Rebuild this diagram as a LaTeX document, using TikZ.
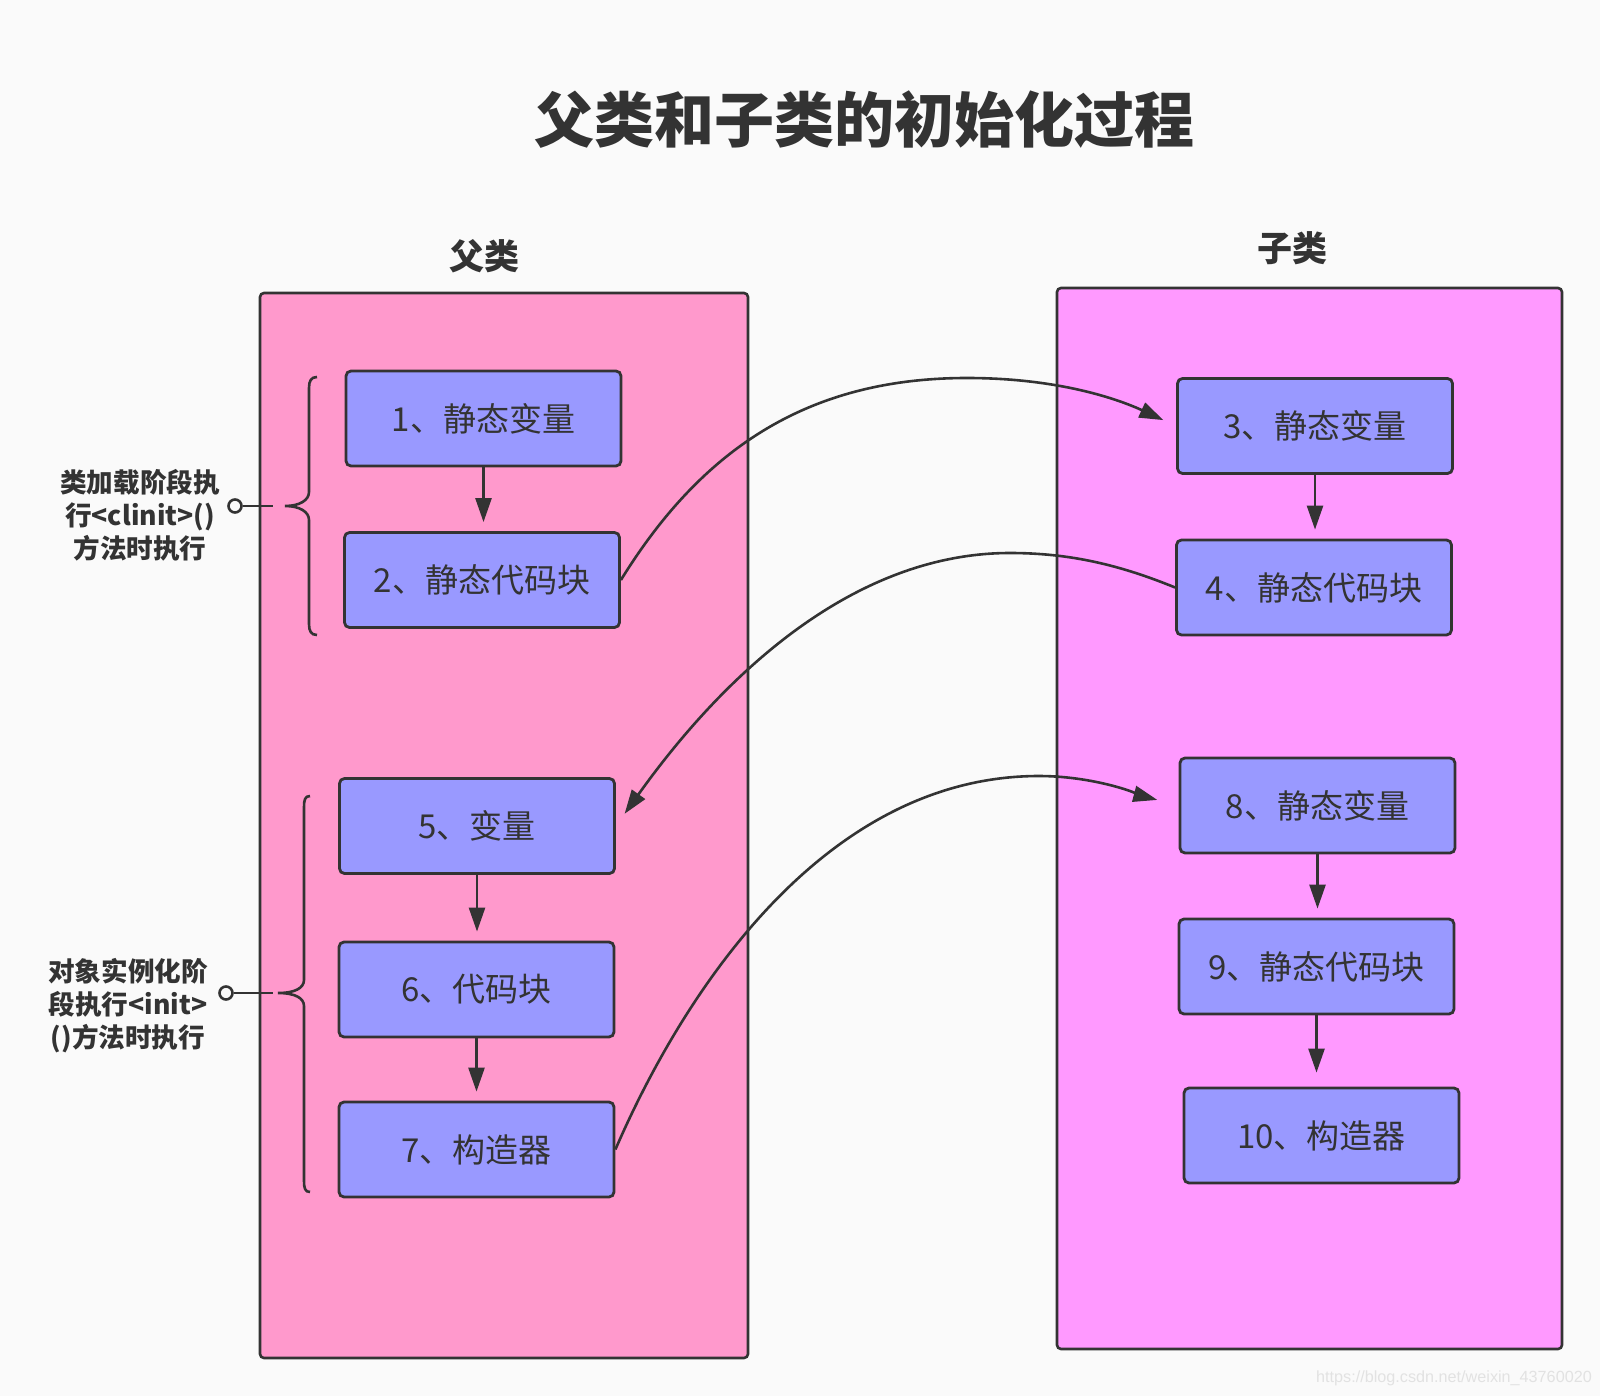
\documentclass[tikz,border=0pt]{standalone}
\usepackage{fontspec}
\setmainfont{Noto Sans CJK SC}
\newfontfamily\wmfont{Liberation Sans}
\usetikzlibrary{arrows.meta,calc}
\definecolor{bg}{HTML}{FAFAFA}
\definecolor{ln}{HTML}{333333}
\definecolor{pinkc}{HTML}{FF99CC}
\definecolor{magc}{HTML}{FF99FF}
\definecolor{boxc}{HTML}{9999FF}
\definecolor{wmc}{HTML}{E2E2E2}
\begin{document}
\begin{tikzpicture}[x=0.5pt,y=-0.5pt,
  cont/.style={draw=ln, line width=1.3pt, rounded corners=2pt, inner sep=0pt},
  box/.style={draw=ln, fill=boxc, line width=1.4pt, rounded corners=2.5pt,
    minimum width=137.5pt, minimum height=47.5pt, inner sep=0pt,
    text=ln, font=\fontsize{16.5}{20}\selectfont},
  lab/.style={text=ln, font=\bfseries\fontsize{17.5}{21}\selectfont},
  side/.style={align=center, text=ln, font=\bfseries\fontsize{13.3}{16.5}\selectfont},
  dotc/.style={circle, draw=ln, fill=bg, line width=1.3pt, minimum size=6.5pt, inner sep=0pt},
  arr/.style={draw=ln, line width=1.3pt, -{Triangle[length=12pt,width=8pt]}},
  brc/.style={draw=ln, line width=1.3pt}]
\fill[bg] (0,0) rectangle (1600,1396);
\useasboundingbox (0,0) rectangle (1600,1396);

% containers
\node[cont, fill=pinkc, minimum width=244pt, minimum height=532.5pt] (L) at (504,825.5) {};
\node[cont, fill=magc, minimum width=252.5pt, minimum height=530.5pt] (R) at (1309.5,818.5) {};

% titles
\node[text=ln, font=\bfseries\fontsize{30}{36}\selectfont] (title) at (864,120) {父类和子类的初始化过程};
\node[lab] (lp) at (484,256) {父类};
\node[lab] (lc) at (1292,248) {子类};

% boxes
\node[box] (b1) at (483.5,418.5) {1、静态变量};
\node[box] (b2) at (482,580) {2、静态代码块};
\node[box] (b3) at (1315,426) {3、静态变量};
\node[box] (b4) at (1314,587.5) {4、静态代码块};
\node[box] (b5) at (477,826) {5、变量};
\node[box] (b6) at (476.5,989.5) {6、代码块};
\node[box] (b7) at (476.5,1149.5) {7、构造器};
\node[box] (b8) at (1317.5,805.5) {8、静态变量};
\node[box] (b9) at (1316.5,966.5) {9、静态代码块};
\node[box] (b10) at (1321.5,1135.5) {10、构造器};

% straight arrows
\draw[arr, shorten >=4.5pt] (b1.south) -- (b1.south |- b2.north);
\draw[arr, shorten >=4.5pt] (b3.south) -- (b3.south |- b4.north);
\draw[arr, shorten >=4.5pt] (b5.south) -- (b5.south |- b6.north);
\draw[arr, shorten >=4.5pt] (b6.south) -- (b6.south |- b7.north);
\draw[arr, shorten >=4.5pt] (b8.south) -- (b8.south |- b9.north);
\draw[arr, shorten >=7pt] (b9.south) -- (b9.south |- b10.north);

% curved arrows
\draw[arr, shorten >=7pt] (b2.east) .. controls (703,447) and (810,378) .. (967,378)
  .. controls (1060,378) and (1120,400) .. (b3.west);
\draw[arr, shorten >=7.5pt] (b4.west) .. controls (1120,565) and (1070,553) .. (1010,553)
  .. controls (850,553) and (720,680) .. (b5.east);
\draw[arr, shorten >=11pt] (b7.east) .. controls (680,1000) and (820,776) .. (1039,776)
  .. controls (1100,776) and (1150,798) .. (b8.west);

% braces
\draw[brc] (317,377) .. controls (311,377) and (309,381) .. (309,388) -- (309,492)
  .. controls (309,500) and (300,506) .. (285,506)
  .. controls (300,506) and (309,512) .. (309,520) -- (309,624)
  .. controls (309,631) and (311,635) .. (317,635);
\draw[brc] (310,796) .. controls (305,796) and (304,800) .. (304,807) -- (304,980)
  .. controls (304,988) and (295,993) .. (278,993)
  .. controls (295,993) and (304,998) .. (304,1006) -- (304,1181)
  .. controls (304,1188) and (305,1192) .. (310,1192);
\coordinate (k1) at (273,506);
\coordinate (k2) at (273,993);

% side notes
\node[dotc] (c1) at (235,506) {};
\node[dotc] (c2) at (226,993) {};
\draw[brc] (c1) -- (k1);
\draw[brc] (c2) -- (k2);
\node[side] (t1) at (140,515) {类加载阶段执\\行<clinit>()\\方法时执行};
\node[side] (t2) at (128,1006) {对象实例化阶\\段执行<init>\\()方法时执行};

% watermark
\node[text=wmc, font=\wmfont\fontsize{8.1}{10}\selectfont] (wm) at (1454,1378) {https://blog.csdn.net/weixin\_43760020};
\end{tikzpicture}
\end{document}
